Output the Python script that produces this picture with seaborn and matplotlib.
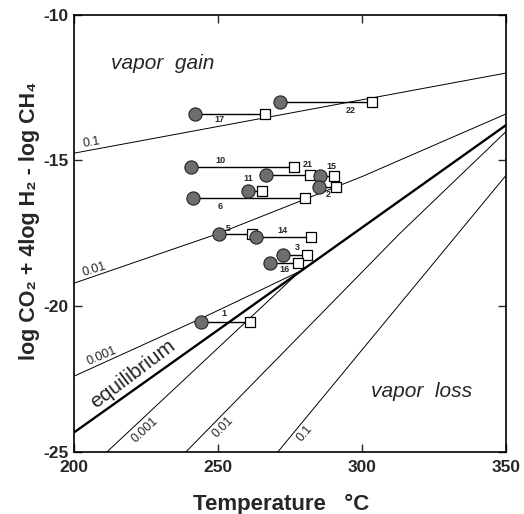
import numpy as np
import pandas as pd
import matplotlib
matplotlib.use("Agg")
import matplotlib.pyplot as plt
import seaborn as sns

# ---- data ----
sample_ids = ["17", "22", "10", "21", "15", "2", "11", "6", "5", "14", "3", "16", "1"]
t_measured = [241.9, 271.4, 240.5, 266.5, 285.3, 285.0, 260.3, 241.2, 250.2, 263.3, 272.4, 268.0, 244.2]
t_reservoir = [266.2, 303.4, 276.3, 281.8, 290.2, 290.9, 265.2, 280.1, 261.7, 282.4, 281.0, 277.9, 261.0]
gas_ratio = [-13.39, -12.99, -15.22, -15.50, -15.54, -15.90, -16.04, -16.29, -17.53, -17.64, -18.25, -18.51, -20.54]

eq_t = [200, 350]
eq_v = [-24.33, -13.78]
gain01_t = [200, 350]
gain01_v = [-14.75, -12.0]
gain001_t = [200, 250, 300, 350]
gain001_v = [-19.21, -17.51, -15.55, -13.40]
gain0001_t = [200, 244.3, 257.5, 278.4]
gain0001_v = [-22.40, -20.41, -19.79, -18.80]
loss0001_t = [211.4, 278.4]
loss0001_v = [-25.0, -18.80]
loss001_t = [238.8, 313.1, 350]
loss001_v = [-25.0, -17.5, -14.0]
loss01_t = [270.7, 350]
loss01_v = [-25.0, -15.5]

x_ticks = [200, 250, 300, 350]
y_ticks = [-25, -20, -15, -10]

# ---- styling ----
sns.set_theme(style="ticks")
plt.rcParams["font.family"] = ["Liberation Sans", "DejaVu Sans"]
plt.rcParams["axes.unicode_minus"] = False

fig = plt.figure(figsize=(5.24, 5.14), dpi=100)
ax = fig.add_axes([0.1412, 0.1206, 0.8250, 0.8508])

def draw(t, v, lw):
    sns.lineplot(x=t, y=v, ax=ax, color="black", lw=lw, estimator=None, sort=False)

draw(eq_t, eq_v, 1.7)
for t, v in [(gain01_t, gain01_v), (gain001_t, gain001_v), (gain0001_t, gain0001_v),
             (loss0001_t, loss0001_v), (loss001_t, loss001_v), (loss01_t, loss01_v)]:
    draw(t, v, 0.7)

# sample tie lines
rows = []
for s, a, b, v in zip(sample_ids, t_measured, t_reservoir, gas_ratio):
    rows.append({"sample": s, "T": a, "V": v})
    rows.append({"sample": s, "T": b, "V": v})
tie = pd.DataFrame(rows)
sns.lineplot(data=tie, x="T", y="V", units="sample", estimator=None, color="black",
             lw=1.0, ax=ax, sort=False)

pts = pd.DataFrame({"sample": sample_ids, "Tm": t_measured, "Tr": t_reservoir, "V": gas_ratio})
sns.scatterplot(data=pts, x="Tr", y="V", marker="s", s=55, facecolor="white",
                edgecolor="black", linewidth=0.9, ax=ax, zorder=4)
sns.scatterplot(data=pts, x="Tm", y="V", marker="o", s=90, color="#6e6e6e",
                edgecolor="#222222", linewidth=0.8, ax=ax, zorder=5)

# sample number labels (offsets in pixels from tie-line midpoint)
label_offsets = {"17": (-10, -6), "22": (25, -9), "10": (-22, 6), "21": (20, 11),
                 "15": (5, 10), "2": (1, -8), "11": (-7, 12), "6": (-29, -8),
                 "5": (-7, 6), "14": (-1, 7), "3": (2, 8), "16": (0, -7), "1": (-2, 8)}
for s, a, b, v in zip(sample_ids, t_measured, t_reservoir, gas_ratio):
    dx, dy = label_offsets[s]
    ax.annotate(s, xy=((a + b) / 2, v), xytext=(dx, dy), textcoords="offset pixels",
                ha="center", va="center", fontsize=6.5, fontweight="bold", zorder=6)

# line labels
line_labels = [("0.1", 206.2, -14.4, 10), ("0.01", 207.2, -18.75, 17),
               ("0.001", 209.5, -21.7, 23), ("0.001", 224.6, -24.26, 43),
               ("0.01", 251.6, -24.16, 45), ("0.1", 280.1, -24.36, 50)]
for txt, x, y, rot in line_labels:
    ax.text(x, y, txt, fontsize=9, rotation=rot, ha="center", va="center",
            rotation_mode="anchor")
ax.text(220.4, -22.31, "equilibrium", fontsize=15, rotation=37, ha="center", va="center",
        rotation_mode="anchor")
ax.text(230.8, -11.66, "vapor  gain", fontsize=15, style="italic", ha="center", va="center")
ax.text(320.7, -22.92, "vapor  loss", fontsize=15, style="italic", ha="center", va="center")

ax.set_xlim(200, 350)
ax.set_ylim(-25, -10)
ax.set_xticks(x_ticks)
ax.set_yticks(y_ticks)
ax.set_xticklabels([str(t) for t in x_ticks], fontsize=12.5, fontweight="bold")
ax.set_yticklabels([str(t) for t in y_ticks], fontsize=12.5, fontweight="bold")
ax.tick_params(direction="in", length=6, width=1.0, top=True, right=True)
ax.tick_params(axis="x", pad=6)
ax.tick_params(axis="y", pad=4)
for sp in ax.spines.values():
    sp.set_linewidth(1.2)
    sp.set_color("black")

ax.set_xlabel("Temperature   °C", fontsize=16, fontweight="bold")
ax.set_ylabel("log CO₂ + 4log H₂ - log CH₄", fontsize=15.5, fontweight="bold")
ax.xaxis.set_label_coords(0.48, -0.095)
ax.yaxis.set_label_coords(-0.078, 0.528)

fig.savefig("out.png", dpi=100)
